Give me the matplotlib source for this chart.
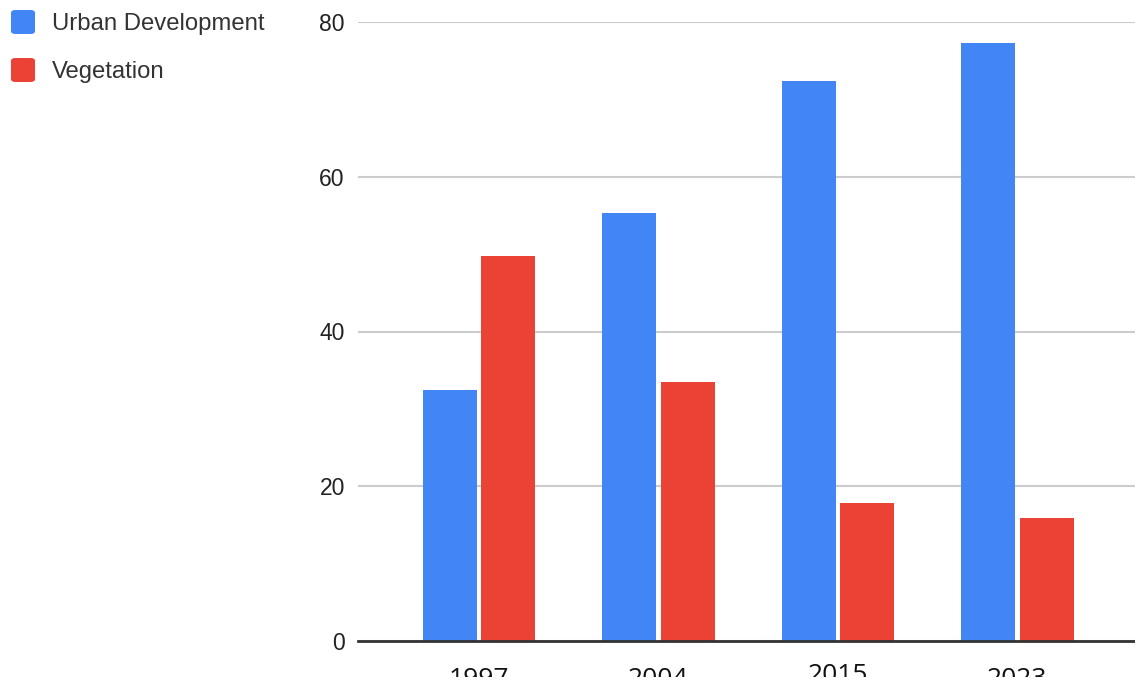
import numpy as np
import matplotlib as mpl
import matplotlib.pyplot as plt
from matplotlib.patches import FancyBboxPatch
from matplotlib.transforms import Bbox, blended_transform_factory

mpl.rcParams.update({
    "font.family": ["Liberation Sans", "DejaVu Sans"],
})

# ===== DATA =====
years = ["1997", "2004", "2015", "2023"]
urban = [32.4, 55.3, 72.4, 77.3]
vegetation = [49.8, 33.5, 17.8, 15.9]
series_names = ["Urban Development", "Vegetation"]

CLR_URBAN = "#4285F4"
CLR_VEG = "#EA4335"

# ===== FIGURE =====
W, H, DPI = 1135, 688, 100
fig = plt.figure(figsize=(W / DPI, H / DPI), dpi=DPI)
ax = fig.add_axes([358 / W, 47 / H, (W - 358) / W, (641 - 22) / H])

x = np.arange(len(years))
bw = 0.30
off = 0.163
ax.bar(x - off, urban, bw, color=CLR_URBAN, zorder=3)
ax.bar(x + off, vegetation, bw, color=CLR_VEG, zorder=3)

ax.set_xlim(-0.674, 3.655)
ax.set_ylim(0, 80)
ax.set_yticks([0, 20, 40, 60, 80])
ax.yaxis.grid(True, color="#cccccc", linewidth=1.5, zorder=0)
ax.tick_params(axis="y", length=0, pad=9.5, labelsize=16.5, labelcolor="#222222")
for s in ax.spines.values():
    s.set_visible(False)
ax.axhline(0, color="#333333", lw=2, zorder=4, clip_on=False)

# x labels: big font, cut off near the bottom like the source screenshot
ax.set_xticks(x)
ax.set_xticklabels([])
ax.tick_params(axis="x", length=0)
clip = Bbox.from_extents(0, H - 677, W, H)
lift = {"2015": 4}
trans = blended_transform_factory(ax.transData, fig.transFigure)
for xi, yr in zip(x, years):
    t = ax.text(xi, (H - 667 + lift.get(yr, 0)) / H, yr, transform=trans,
                ha="center", va="top", fontsize=19, color="#111111",
                family=["Open Sans", "DejaVu Sans"])
    t.set_clip_box(clip)
    t.set_clip_on(True)

# ===== LEGEND (top-left) =====
for i, (name, clr) in enumerate(zip(series_names, [CLR_URBAN, CLR_VEG])):
    yc = 22 + 48 * i
    sq = FancyBboxPatch((11 / W, (H - yc - 12) / H), 24 / W, 24 / H,
                        boxstyle="round,pad=0,rounding_size=0.004",
                        transform=fig.transFigure, facecolor=clr, edgecolor="none")
    fig.patches.append(sq)
    fig.text(52 / W, (H - yc - 2) / H, name, fontsize=17.2, color="#333333", va="center", ha="left")

fig.savefig("out.png", dpi=DPI)
